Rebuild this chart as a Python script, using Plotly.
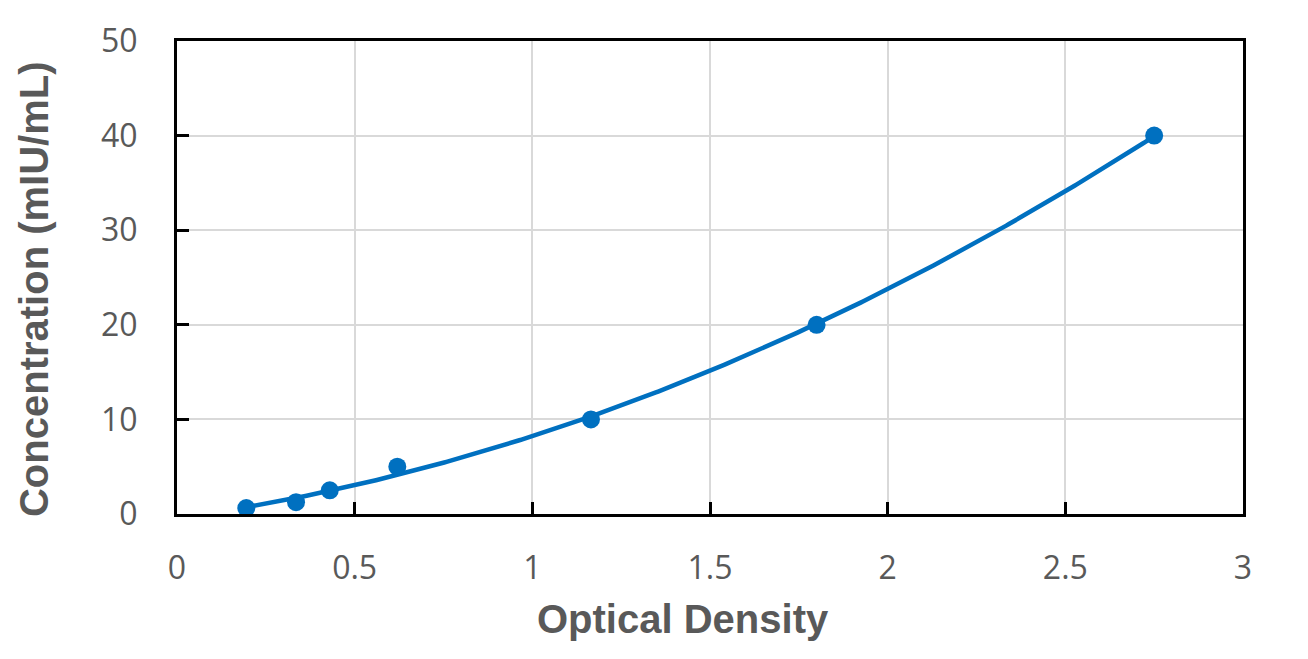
import numpy as np
import plotly.graph_objects as go

od = [0.195, 0.335, 0.43, 0.62, 1.165, 1.80, 2.75]
conc = [0.625, 1.25, 2.5, 5.0, 10.0, 20.0, 40.0]

x_ticks = [0, 0.5, 1, 1.5, 2, 2.5, 3]
x_labels = ["0", "0.5", "1", "1.5", "2", "2.5", "3"]
y_ticks = [0, 10, 20, 30, 40, 50]
x_title = "Optical Density"
y_title = "Concentration (mIU/mL)"

# Polynomial (order 2) trendline fitted to the data, as in the original
coef = np.polyfit(od, conc, 2)
xs = np.linspace(min(od), max(od), 400)
ys = np.polyval(coef, xs)

blue = "#0070C0"
grey = "#595959"

fig = go.Figure()
fig.add_trace(go.Scatter(x=xs, y=ys, mode="lines",
                         line=dict(color=blue, width=4.5), hoverinfo="skip",
                         showlegend=False))
fig.add_trace(go.Scatter(x=od, y=conc, mode="markers",
                         marker=dict(color=blue, size=18), showlegend=False))

fig.update_layout(
    width=1308, height=659,
    margin=dict(l=177, r=65, t=41, b=145),
    plot_bgcolor="white", paper_bgcolor="white",
    font=dict(family="Open Sans", color=grey),
)
fig.update_xaxes(
    range=[0, 3], tickvals=x_ticks, ticktext=x_labels,
    showgrid=True, gridcolor="#D9D9D9", gridwidth=2,
    showline=True, linecolor="black", linewidth=3, mirror=True,
    ticks="inside", ticklen=12, tickwidth=3, tickcolor="black",
    tickfont=dict(size=32, color=grey), ticklabelstandoff=24,
    zeroline=False,
)
fig.update_yaxes(
    range=[0, 50], tickvals=y_ticks,
    showgrid=True, gridcolor="#D9D9D9", gridwidth=2,
    showline=True, linecolor="black", linewidth=3, mirror=True,
    ticks="inside", ticklen=12, tickwidth=3, tickcolor="black",
    tickfont=dict(size=32, color=grey), ticklabelstandoff=30,
    zeroline=False,
)
title_font = dict(family="Liberation Sans", size=40, color=grey)
fig.add_annotation(text=f"<b>{x_title}</b>", xref="paper", yref="paper",
                   x=0.4747, y=-0.222, xanchor="center", yanchor="middle",
                   showarrow=False, font=title_font)
fig.add_annotation(text=f"<b>{y_title}</b>", xref="paper", yref="paper",
                   x=-0.1341, y=0.4757, xanchor="center", yanchor="middle",
                   textangle=-90, showarrow=False, font=title_font)

fig.write_html("out.html")
